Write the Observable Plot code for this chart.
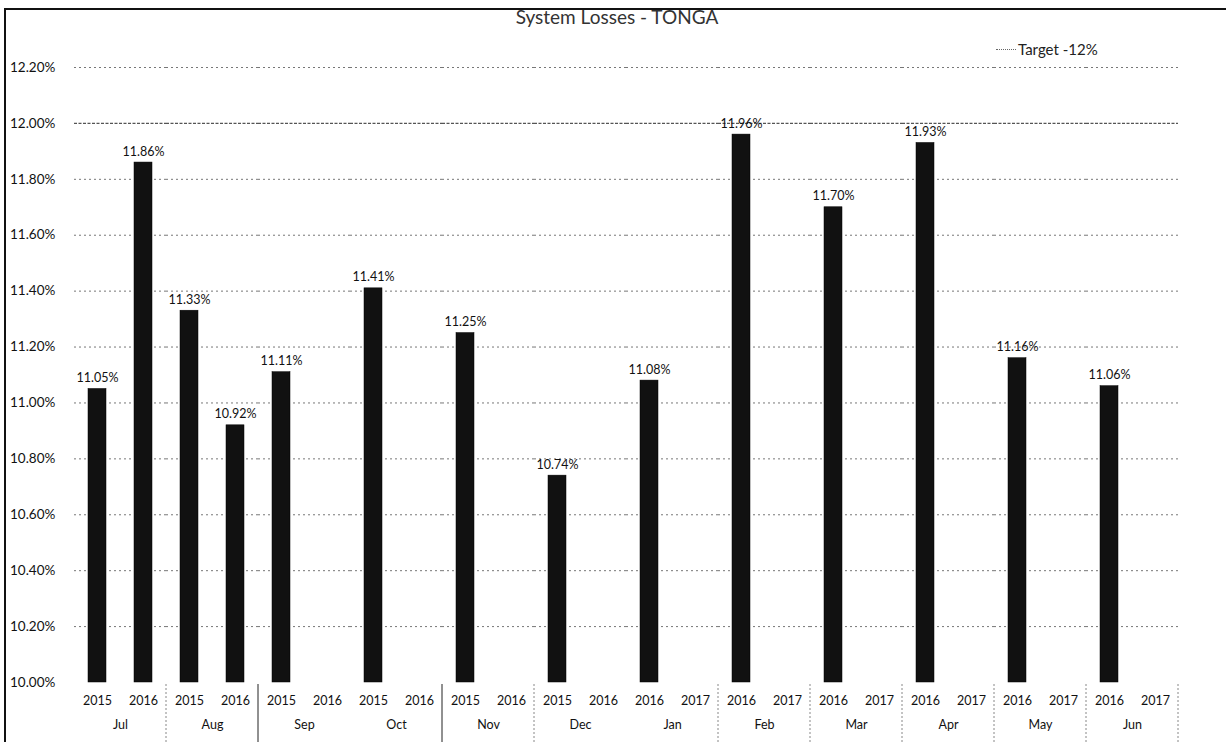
<!DOCTYPE html>
<html><head><meta charset="utf-8">
<script src="https://cdn.jsdelivr.net/npm/d3@7"></script>
<script src="https://cdn.jsdelivr.net/npm/@observablehq/plot@0.6"></script>
<style>
body{margin:0;background:#fff;font-family:Lato,"Open Sans",sans-serif;}
#wrap{position:relative;width:1226px;height:742px;overflow:hidden;}
#border{position:absolute;left:4px;top:8px;width:1222px;height:740px;border-left:2px solid #111;border-top:2px solid #111;}
#title{position:absolute;left:0;width:1234px;top:5px;text-align:center;font-size:19px;color:#333;}
#legend{position:absolute;left:996px;top:40px;font-size:15px;color:#222;display:flex;align-items:center;}
#legend span.l{display:inline-block;width:20px;border-top:1.5px dotted #666;margin-right:2px;}
#chart{position:absolute;left:0;top:0;}
</style>
</head><body>
<div id="wrap"><div id="chart"></div><div id="border"></div>
<div id="title">System Losses - TONGA</div>
<div id="legend"><span class="l"></span>Target -12%</div></div>
<script>
const months = ["Jul","Aug","Sep","Oct","Nov","Dec","Jan","Feb","Mar","Apr","May","Jun"];
const yearsFirst = ["2015","2015","2015","2015","2015","2015","2016","2016","2016","2016","2016","2016"];
const yearsSecond = ["2016","2016","2016","2016","2016","2016","2017","2017","2017","2017","2017","2017"];
const valuesFirst = [11.05, 11.33, 11.11, 11.41, 11.25, 10.74, 11.08, 11.96, 11.70, 11.93, 11.16, 11.06];
const valuesSecond = [11.86, 10.92, null, null, null, null, null, null, null, null, null, null];
const yTicks = [10.0, 10.2, 10.4, 10.6, 10.8, 11.0, 11.2, 11.4, 11.6, 11.8, 12.0, 12.2];
const target = 12.0;
const yMin = 10.0, yMax = 12.2;

const slots = [];
months.forEach((m, i) => {
  slots.push({month: m, pos: "a", year: yearsFirst[i], value: valuesFirst[i]});
  slots.push({month: m, pos: "b", year: yearsSecond[i], value: valuesSecond[i]});
});
const bars = slots.filter(d => d.value != null);

const plot = Plot.plot({
  width: 1226, height: 742,
  marginLeft: 73, marginRight: 48, marginTop: 67, marginBottom: 60,
  style: {fontFamily: "Lato, 'Open Sans', sans-serif", fontSize: "12px", color: "#111", background: "transparent"},
  fx: {domain: months, padding: 0, label: null},
  x: {domain: ["a","b"], paddingInner: 0.6, paddingOuter: 0.3, axis: null},
  y: {domain: [yMin, yMax], axis: null},
  marks: [
    Plot.ruleY(yTicks.filter(t => t !== target && t !== yMin), {stroke: "#777", strokeWidth: 1, strokeDasharray: "2,3"}),
    Plot.ruleY([target], {stroke: "#555", strokeWidth: 1.3, strokeDasharray: "3,1.5"}),
    Plot.barY(bars, {fx: "month", x: "pos", y1: yMin, y2: "value", fill: "#111", stroke: "#000", strokeWidth: 0.5}),
    Plot.text(bars, {fx: "month", x: "pos", y: "value", text: d => d.value.toFixed(2) + "%", dy: -11, fontSize: 12.5, fill: "#111"}),
    Plot.text(slots, {fx: "month", x: "pos", y: yMin, text: "year", dy: 18, fontSize: 12.5, fill: "#111"}),
    Plot.axisFx({anchor: "bottom", tickSize: 0, tickPadding: 38, label: null, fontSize: 12.5})
  ]
});
document.getElementById("chart").appendChild(plot);

// y axis labels & separators from the scales
const svg = d3.select(plot);
const ys = plot.scale("y"), fxs = plot.scale("fx");
const g = svg.append("g").attr("font-size", 13.5).attr("fill", "#111").attr("text-anchor", "start");
yTicks.forEach(t => {
  g.append("text").attr("x", 10).attr("y", ys.apply(t)).attr("dy", "0.35em").text(t.toFixed(2) + "%");
});
const y0 = ys.apply(yMin);
const solid = new Set(["Sep", "Nov"]);
const none = new Set(["Oct", "Jan"]);
const sep = svg.append("g");
months.slice(1).forEach(m => {
  if (none.has(m)) return;
  const x = fxs.apply(m);
  sep.append("line").attr("x1", x).attr("x2", x).attr("y1", y0 + 2).attr("y2", 742)
    .attr("stroke", solid.has(m) ? "#222" : "#888").attr("stroke-width", 1)
    .attr("stroke-dasharray", solid.has(m) ? null : "2,2");
});
const xr = fxs.apply(months[months.length - 1]) + fxs.bandwidth;
sep.append("line").attr("x1", xr).attr("x2", xr).attr("y1", y0 + 2).attr("y2", 742)
  .attr("stroke", "#888").attr("stroke-dasharray", "2,2");
</script>
</body></html>
